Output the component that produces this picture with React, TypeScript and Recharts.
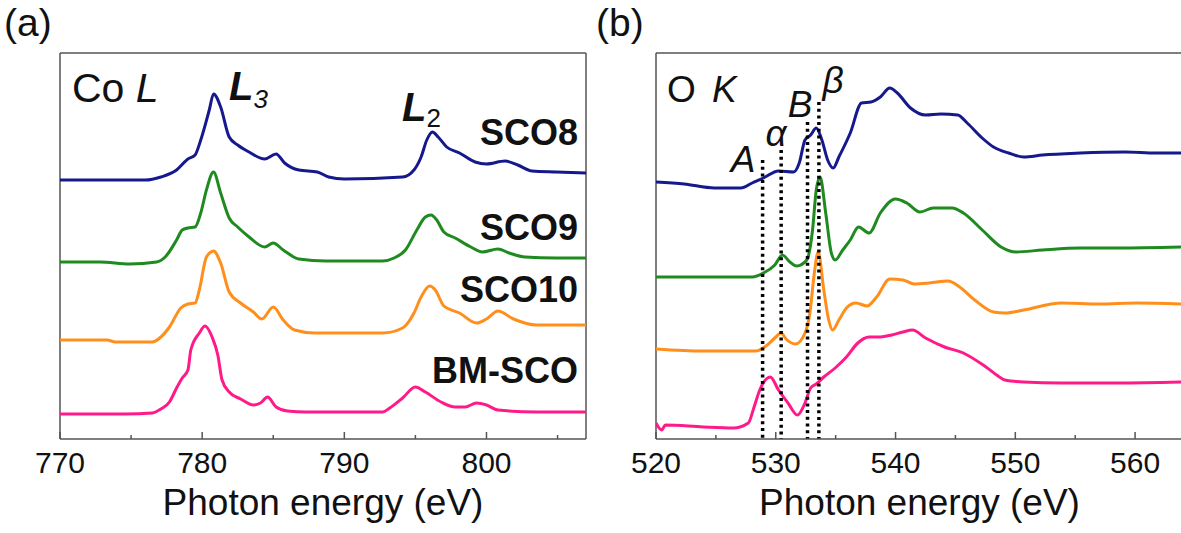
import React from 'react';
import { LineChart, Line, XAxis, YAxis, ReferenceLine } from 'recharts';

// ---------- Panel (a): Co L-edge (photon energy eV, intensity a.u.) ----------
const coL_SCO8: [number, number][] = [
  [770.0, 259], [776.0, 259], [777.1, 262], [778.2, 269], [779.0, 280], [779.5, 284], [779.9, 299],
  [780.5, 329], [780.8, 345], [781.3, 332], [781.9, 302], [782.5, 294], [783.3, 287], [784.4, 280],
  [785.2, 285], [785.8, 276], [786.8, 269], [788.1, 267], [788.9, 262], [790.0, 260], [794.1, 262],
  [794.9, 269], [795.4, 282], [795.8, 299], [796.2, 307], [796.6, 302], [797.2, 292], [798.1, 286],
  [799.2, 277], [800.0, 275], [801.3, 278], [802.2, 274], [803.2, 268], [804.9, 267], [807.0, 266],
];
const coL_SCO9: [number, number][] = [
  [770.0, 177], [772.8, 177], [774.9, 175], [776.8, 177], [777.4, 182], [778.2, 199], [778.6, 209],
  [779.0, 211], [779.5, 212], [779.9, 226], [780.3, 249], [780.8, 267], [781.3, 246], [781.9, 221],
  [782.5, 212], [783.3, 202], [784.4, 192], [785.0, 196], [785.7, 189], [786.8, 180], [788.7, 178],
  [792.7, 178], [793.5, 181], [794.3, 189], [795.1, 209], [795.7, 222], [796.1, 224], [796.5, 219],
  [797.0, 207], [797.8, 201], [798.9, 192], [799.7, 187], [800.8, 190], [801.6, 186], [802.7, 182],
  [804.9, 181], [807.0, 181],
];
const coL_SCO10: [number, number][] = [
  [770.0, 99], [773.3, 99], [773.9, 97], [776.5, 97], [777.1, 102], [777.7, 112], [778.5, 131],
  [779.0, 135], [779.5, 136], [779.8, 149], [780.3, 182], [780.8, 188], [781.3, 176], [781.9, 147],
  [782.7, 136], [783.6, 127], [784.2, 120], [785.0, 132], [785.7, 119], [786.5, 109], [787.9, 106],
  [792.7, 106], [794.1, 111], [794.9, 126], [795.4, 142], [796.0, 153], [796.4, 149], [797.0, 133],
  [798.1, 126], [799.3, 116], [800.0, 120], [800.8, 128], [801.9, 120], [803.5, 114], [807.0, 114],
];
const coL_BMSCO: [number, number][] = [
  [770.0, 25], [774.6, 25], [776.5, 26], [777.1, 30], [777.7, 37], [778.2, 51], [778.6, 61],
  [779.0, 69], [779.2, 89], [779.8, 106], [780.2, 113], [780.7, 102], [781.1, 84], [781.4, 59],
  [781.9, 47], [782.7, 40], [783.6, 34], [784.1, 36], [784.6, 42], [785.2, 32], [786.0, 28],
  [787.3, 27], [792.7, 27], [793.2, 31], [794.1, 41], [795.0, 52], [795.7, 47], [796.8, 37],
  [797.8, 32], [798.5, 32], [799.3, 36], [800.0, 34], [800.8, 29], [803.5, 27], [807.0, 27],
];

// ---------- Panel (b): O K-edge ----------
const oK_SCO8: [number, number][] = [
  [520.0, 257], [522.36, 255], [524.88, 251], [527.08, 251], [528.03, 256], [528.97, 261], [530.23, 268],
  [531.49, 267], [531.96, 276], [532.44, 299], [532.91, 304], [533.38, 311], [533.85, 299], [534.33, 279],
  [534.8, 271], [535.27, 282], [536.22, 306], [537.16, 336], [537.95, 337], [538.73, 342], [539.52, 351],
  [540.15, 346], [541.25, 331], [542.51, 324], [543.77, 325], [545.19, 324], [545.98, 316], [547.23, 301],
  [548.18, 292], [549.44, 286], [550.7, 282], [552.27, 284], [555.42, 286], [559.2, 287], [561.72, 286],
  [563.86, 286],
];
const oK_SCO9: [number, number][] = [
  [520.0, 162], [525.82, 162], [528.03, 162], [528.97, 166], [529.92, 174], [530.55, 184], [531.18, 177],
  [531.74, 173], [532.59, 179], [533.07, 209], [533.38, 249], [533.7, 262], [534.17, 226], [534.64, 186],
  [534.96, 179], [535.59, 189], [536.22, 199], [536.91, 212], [537.79, 206], [538.73, 226], [539.99, 240],
  [540.94, 236], [542.04, 227], [543.14, 231], [544.72, 231], [545.66, 226], [547.24, 209], [548.81, 192],
  [550.07, 187], [552.27, 189], [555.42, 191], [558.57, 191], [563.86, 192],
];
const oK_SCO10: [number, number][] = [
  [520.0, 90], [523.94, 88], [528.34, 88], [529.29, 94], [529.92, 101], [530.45, 106], [530.86, 100],
  [531.65, 95], [532.44, 106], [532.85, 126], [533.22, 166], [533.54, 187], [534.01, 149], [534.42, 119],
  [534.74, 109], [535.27, 119], [535.9, 131], [536.69, 136], [537.63, 133], [538.42, 142], [539.52, 160],
  [540.62, 159], [541.57, 155], [542.83, 156], [544.4, 158], [545.35, 152], [546.61, 139], [548.18, 127],
  [549.12, 126], [550.7, 129], [553.85, 136], [557.0, 135], [560.14, 136], [563.86, 135],
];
const oK_BMSCO: [number, number][] = [
  [520.0, 16], [520.47, 9], [520.79, 14], [523.94, 12], [526.45, 11], [527.71, 16], [528.19, 32],
  [528.66, 49], [529.54, 62], [530.23, 49], [531.02, 36], [531.81, 24], [532.44, 36], [532.91, 51],
  [533.38, 55], [534.01, 62], [534.96, 71], [535.9, 82], [536.85, 96], [537.79, 102], [538.73, 102],
  [539.68, 104], [540.62, 107], [541.41, 109], [542.51, 101], [544.09, 92], [545.66, 86], [547.55, 72],
  [548.81, 61], [549.12, 59], [550.7, 57], [553.85, 56], [558.57, 56], [563.86, 57],
];

// dotted marker lines in (b): [energy, top intensity]
const markerA: [number, number] = [528.9, 279];
const markerAlpha: [number, number] = [530.45, 289];
const markerB: [number, number] = [532.65, 317];
const markerBeta: [number, number] = [533.6, 337];

const ticksA = [770, 775, 780, 785, 790, 795, 800, 805];
const ticksB = [520, 525, 530, 535, 540, 545, 550, 555, 560];

const colors = { sco8: '#16198c', sco9: '#1f8a1f', sco10: '#ff8f1a', bm: '#ff1a8a' };
const FONT = '"Liberation Sans", Arial, sans-serif';
const AXIS = '#555555';

const toRows = (arr: [number, number][]) => arr.map(([e, v]) => ({ e, v }));

const makeTick = (major: (v: number) => boolean) => (props: any) => {
  const { x, y, payload } = props;
  const isMajor = major(payload.value);
  return (
    <g>
      <line x1={x} x2={x} y1={y} y2={y - (isMajor ? 7 : 4)} stroke={AXIS} strokeWidth={1.5} />
      {isMajor && (
        <text x={x} y={y + 34} textAnchor="middle" fontSize={30} fontFamily={FONT} fill="#111">
          {payload.value}
        </text>
      )}
    </g>
  );
};

const txt = { fontFamily: FONT, fill: '#111' } as const;

export default function App() {
  return (
    <div style={{ position: 'absolute', left: 0, top: 0, width: 1181, height: 533, overflow: 'hidden', background: '#fff' }}>
      <div style={{ position: 'absolute', left: 0, top: 0 }}>
        <LineChart width={600} height={533} margin={{ top: 53, right: 14, bottom: 0, left: 60 }}>
          <XAxis
            type="number"
            dataKey="e"
            domain={[770, 807]}
            ticks={ticksA}
            allowDataOverflow
            height={94}
            tickSize={0}
            tickMargin={0}
            tickLine={false}
            axisLine={{ stroke: AXIS, strokeWidth: 1.5 }}
            tick={makeTick((v) => v % 10 === 0)}
            label={{ value: 'Photon energy (eV)', position: 'insideBottom', offset: 18, fontSize: 37, fontFamily: FONT, fill: '#111' }}
          />
          <YAxis type="number" domain={[0, 386]} hide width={0} />
          <ReferenceLine x={770} stroke={AXIS} strokeWidth={1.5} />
          <ReferenceLine x={807} stroke={AXIS} strokeWidth={1.5} />
          <ReferenceLine y={386} stroke={AXIS} strokeWidth={1.5} />
          <Line data={toRows(coL_SCO8)} dataKey="v" type="monotone" stroke={colors.sco8} strokeWidth={3} dot={false} isAnimationActive={false} />
          <Line data={toRows(coL_SCO9)} dataKey="v" type="monotone" stroke={colors.sco9} strokeWidth={3} dot={false} isAnimationActive={false} />
          <Line data={toRows(coL_SCO10)} dataKey="v" type="monotone" stroke={colors.sco10} strokeWidth={3} dot={false} isAnimationActive={false} />
          <Line data={toRows(coL_BMSCO)} dataKey="v" type="monotone" stroke={colors.bm} strokeWidth={3} dot={false} isAnimationActive={false} />
          <text x={4} y={36} fontSize={39} {...txt}>(a)</text>
          <text x={72} y={102} fontSize={41} {...txt}>
            Co <tspan fontStyle="italic">L</tspan>
          </text>
          <text x={229} y={100} fontSize={40} fontWeight="bold" fontStyle="italic" {...txt}>
            L<tspan fontSize={26} fontWeight="normal" dy={8}>3</tspan>
          </text>
          <text x={402} y={121} fontSize={40} fontWeight="bold" fontStyle="italic" {...txt}>
            L<tspan fontSize={26} fontWeight="normal" fontStyle="normal" dy={6}>2</tspan>
          </text>
          <text x={578} y={145} textAnchor="end" fontSize={36} fontWeight="bold" {...txt}>SCO8</text>
          <text x={578} y={240} textAnchor="end" fontSize={36} fontWeight="bold" {...txt}>SCO9</text>
          <text x={578} y={302} textAnchor="end" fontSize={36} fontWeight="bold" {...txt}>SCO10</text>
          <text x={578} y={383} textAnchor="end" fontSize={36} fontWeight="bold" {...txt}>BM-SCO</text>
        </LineChart>
      </div>
      <div style={{ position: 'absolute', left: 590, top: 0 }}>
        <LineChart width={600} height={533} margin={{ top: 53, right: 7, bottom: 0, left: 66 }}>
          <XAxis
            type="number"
            dataKey="e"
            domain={[520, 564]}
            ticks={ticksB}
            allowDataOverflow
            height={94}
            tickSize={0}
            tickMargin={0}
            tickLine={false}
            axisLine={{ stroke: AXIS, strokeWidth: 1.5 }}
            tick={makeTick((v) => v % 10 === 0)}
            label={{ value: 'Photon energy (eV)', position: 'insideBottom', offset: 18, fontSize: 37, fontFamily: FONT, fill: '#111' }}
          />
          <YAxis type="number" domain={[0, 386]} hide width={0} />
          <ReferenceLine x={520} stroke={AXIS} strokeWidth={1.5} />
          <ReferenceLine y={386} stroke={AXIS} strokeWidth={1.5} />
          <Line data={toRows(oK_SCO8)} dataKey="v" type="monotone" stroke={colors.sco8} strokeWidth={3} dot={false} isAnimationActive={false} />
          <Line data={toRows(oK_SCO9)} dataKey="v" type="monotone" stroke={colors.sco9} strokeWidth={3} dot={false} isAnimationActive={false} />
          <Line data={toRows(oK_SCO10)} dataKey="v" type="monotone" stroke={colors.sco10} strokeWidth={3} dot={false} isAnimationActive={false} />
          <Line data={toRows(oK_BMSCO)} dataKey="v" type="monotone" stroke={colors.bm} strokeWidth={3} dot={false} isAnimationActive={false} />
          {[markerA, markerAlpha, markerB, markerBeta].map(([e, top], i) => (
            <ReferenceLine
              key={i}
              segment={[{ x: e, y: top }, { x: e, y: 0 }]}
              stroke="#000"
              strokeWidth={3.5}
              strokeDasharray="3 3.7"
            />
          ))}
          <text x={6} y={36} fontSize={39} {...txt}>(b)</text>
          <text x={77} y={102} fontSize={37} {...txt}>
            O <tspan dx={6} fontStyle="italic">K</tspan>
          </text>
          <text x={153} y={172} textAnchor="middle" fontSize={37} fontStyle="italic" {...txt}>A</text>
          <text x={186} y={146} textAnchor="middle" fontSize={37} fontStyle="italic" {...txt}>α</text>
          <text x={210} y={117} textAnchor="middle" fontSize={37} fontStyle="italic" {...txt}>B</text>
          <text x={243} y={93} textAnchor="middle" fontSize={37} fontStyle="italic" {...txt}>β</text>
        </LineChart>
      </div>
    </div>
  );
}
